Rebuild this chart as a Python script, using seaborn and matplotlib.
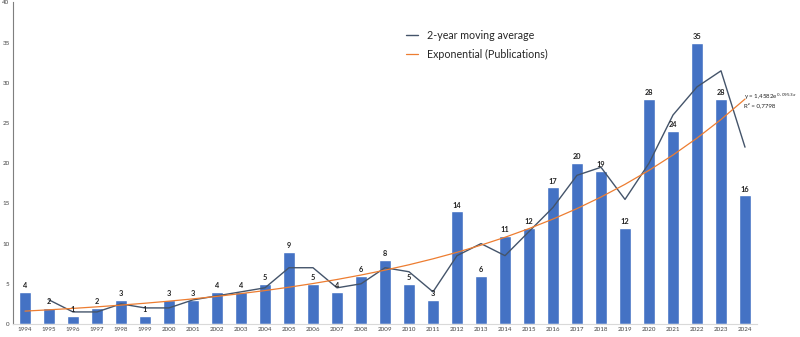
import numpy as np
import pandas as pd
import matplotlib
matplotlib.use("Agg")
import matplotlib.pyplot as plt
import seaborn as sns

# publications per year
years = list(range(1994, 2025))
publications = [4, 2, 1, 2, 3, 1, 3, 3, 4, 4, 5, 9, 5, 4, 6, 8, 5, 3, 14, 6,
                11, 12, 17, 20, 19, 12, 28, 24, 35, 28, 16]
y_ticks = [0, 5, 10, 15, 20, 25, 30, 35, 40]
eq_text = "y = 1,4582e$^{0,0953x}$"
r2_text = "R² = 0,7798"

bar_color = "#4472C4"
ma_color = "#44546A"
trend_color = "#ED7D31"

sns.set_style("white")
plt.rcParams['font.family'] = ['Lato', 'DejaVu Sans']

df = pd.DataFrame({"year": [str(y) for y in years], "pubs": publications})
df["ma"] = df["pubs"].rolling(2).mean()

# exponential trendline (Excel style: fit on log values)
xi = np.arange(1, len(df) + 1)
b, ln_a = np.polyfit(xi, np.log(df["pubs"]), 1)
df["trend"] = np.exp(ln_a) * np.exp(b * xi)

fig = plt.figure(figsize=(8, 3.37), dpi=100)
ax = fig.add_axes([0.01625, 0.0386, 0.93, 0.954])

sns.barplot(data=df, x="year", y="pubs", color=bar_color, width=0.5,
            saturation=1, ax=ax)
pos = np.arange(len(df))
ma_line, = ax.plot(pos, df["ma"], color=ma_color, lw=1.0,
                   label="2-year moving average")
tr_line, = ax.plot(pos, df["trend"], color=trend_color, lw=0.9,
                   label="Exponential (Publications)")

for p, v in zip(pos, df["pubs"]):
    ax.text(p, v + 0.35, str(v), ha="center", va="bottom", fontsize=5.3,
            fontweight="bold", color="#222222")

ax.set_xlim(-0.5, len(df) - 0.5)
ax.set_ylim(0, 40)
ax.set_yticks(y_ticks)
ax.set_xlabel("")
ax.set_ylabel("")
ax.tick_params(axis="both", labelsize=4.5, colors="#444444", length=0)
ax.tick_params(axis="y", pad=2.5)
ax.tick_params(axis="x", pad=2)
for s in ["top", "right"]:
    ax.spines[s].set_visible(False)
ax.spines["left"].set_color("#7f7f7f")
ax.spines["left"].set_linewidth(0.8)
ax.spines["bottom"].set_color("#d9d9d9")
ax.spines["bottom"].set_linewidth(0.8)

leg = ax.legend(handles=[ma_line, tr_line], loc="upper left",
                bbox_to_anchor=(0.515, 0.945), frameon=False, fontsize=7.7,
                handlelength=1.1, handletextpad=0.9, labelspacing=0.75)

ax.text(29.95, 28.3, eq_text, fontsize=4.4, color="#222222", ha="left", va="center")
ax.text(29.95, 27.2, r2_text, fontsize=4.4, color="#222222", ha="left", va="center")

fig.savefig("out.png", dpi=100)
